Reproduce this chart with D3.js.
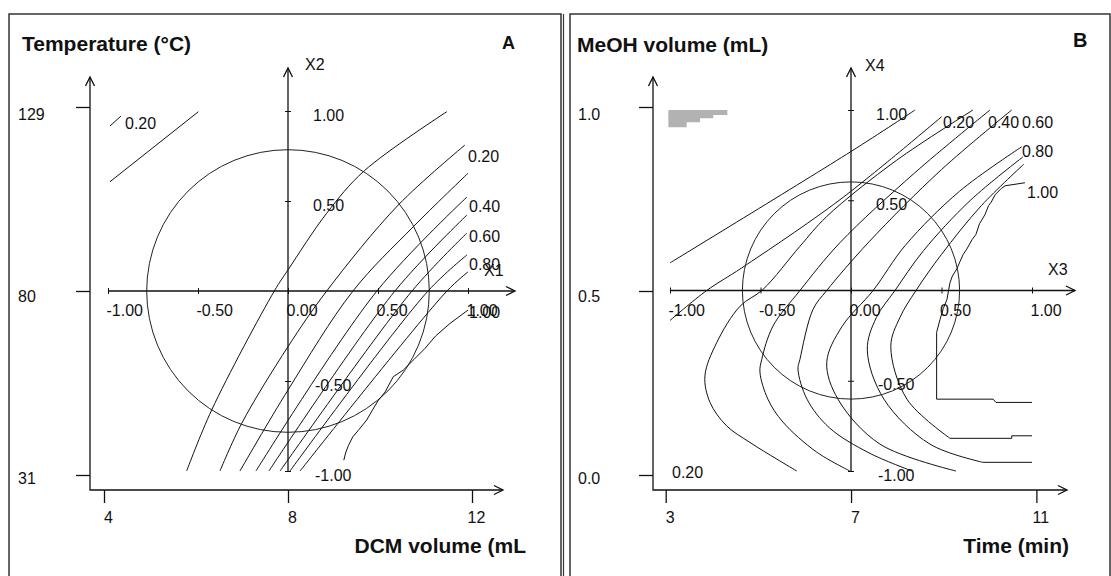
<!DOCTYPE html>
<html>
<head>
<meta charset="utf-8">
<script src="https://cdn.jsdelivr.net/npm/d3@7"></script>
<style>
  body { margin: 0; background: #fff; }
  svg { display: block; }
  text { font-family: "Liberation Sans", Arial, sans-serif; fill: #111; }
  .ax { fill: none; stroke: #111; stroke-width: 1.3; }
  .frame { fill: none; stroke: #333; stroke-width: 1.5; }
  .contour { fill: none; stroke: #111; stroke-width: 1; }
  .circle { fill: none; stroke: #222; stroke-width: 1; }
</style>
</head>
<body>
<svg id="chart" width="1111" height="576"></svg>
<script>
// ---- axis values -------------------------------------------------------
const codedTicks = [-1, -0.5, 0, 0.5, 1];
const codedTickLabels = ["-1.00", "-0.50", "0.00", "0.50", "1.00"];
const dcmTicks = [4, 8, 12];
const tempTicks = [31, 80, 129];
const timeTicks = [3, 7, 11];
const meohTicks = [0, 0.5, 1];
const meohTickLabels = ["0.0", "0.5", "1.0"];

// ---- panel A: response contours in coded units (X1, X2) ----------------
const contoursA = [
  [[-0.989, 0.607], [-0.498, 0.996]],
  [[-0.563, -1.0], [-0.424, -0.661], [-0.076, 0], [0, 0.117], [0.215, 0.432], [0.424, 0.668], [0.882, 0.996]],
  [[-0.378, -1.0], [-0.257, -0.735], [0, -0.309], [0.215, 0], [0.613, 0.478], [0.983, 0.811]],
  [[-0.267, -1.0], [0, -0.55], [0.361, 0], [0.696, 0.357], [1.0, 0.654]],
  [[-0.178, -1.0], [0.494, 0], [0.994, 0.522]],
  [[-0.106, -1.0], [0.594, 0], [0.994, 0.422]],
  [[-0.044, -1.0], [0.689, 0], [0.994, 0.322]],
  [[0.011, -1.0], [0.778, 0], [0.994, 0.2]],
  [[0.067, -1.0], [0.883, 0], [1.0, 0.106]]
];
const jaggedA = [
  [[0.31, -0.94], [0.32, -0.9], [0.335, -0.86], [0.36, -0.81], [0.39, -0.775], [0.437, -0.717],
   [0.47, -0.66], [0.5, -0.61], [0.54, -0.56], [0.585, -0.476], [0.64, -0.44], [0.7, -0.38],
   [0.76, -0.32], [0.82, -0.25], [0.9, -0.18], [1.0, -0.106]]
];
const levelLabelsA = ["0.20", "0.20", "0.40", "0.60", "0.80", "1.00"];

// ---- panel B: response contours in coded units (X3, X4) ----------------
const contoursB = [
  [[-1.0, 0.153], [0, 0.77], [0.354, 1.0]],
  [[-1.0, -0.166], [-0.797, 0], [-0.604, 0.125], [-0.061, 0.503], [0.501, 0.963]],
  [[0.674, 1.0], [0.25, 0.72], [-0.134, 0.41], [-0.282, 0.245], [-0.486, 0.006], [-0.613, -0.087],
   [-0.742, -0.289], [-0.807, -0.473], [-0.779, -0.62], [-0.687, -0.75], [-0.558, -0.842],
   [-0.41, -0.934], [-0.3, -1.0]],
  [[0.768, 1.0], [0.35, 0.65], [-0.061, 0.265], [-0.282, 0], [-0.431, -0.197], [-0.493, -0.381],
   [-0.503, -0.453], [-0.459, -0.602], [-0.376, -0.729], [-0.19, -0.895], [-0.006, -1.0]],
  [[0.888, 1.0], [0.5, 0.67], [0.1, 0.27], [-0.134, 0], [-0.21, -0.105], [-0.282, -0.381],
   [-0.293, -0.436], [-0.243, -0.602], [-0.12, -0.76], [0.1, -0.9], [0.337, -1.0]],
  [[0.943, 0.796], [0.6, 0.55], [0.3, 0.25], [0.122, 0], [-0.05, -0.2], [-0.134, -0.398],
   [-0.072, -0.602], [0.16, -0.851], [0.58, -1.0]],
  [[0.95, 0.74], [0.66, 0.5], [0.4, 0.22], [0.243, 0], [0.14, -0.15], [0.09, -0.33],
   [0.182, -0.602], [0.436, -0.851], [0.729, -0.952]],
  [[0.955, 0.7], [0.72, 0.47], [0.5, 0.2], [0.359, 0], [0.27, -0.15], [0.22, -0.31],
   [0.309, -0.602], [0.547, -0.819]]
];
const jaggedB = [
  [[0.729, -0.952], [1.0, -0.952]],
  [[0.547, -0.819], [0.888, -0.819], [0.888, -0.805], [1.0, -0.805]],
  [[0.961, 0.597], [0.851, 0.58], [0.83, 0.565], [0.796, 0.53], [0.775, 0.49], [0.76, 0.47],
   [0.74, 0.42], [0.71, 0.37], [0.69, 0.31], [0.669, 0.282], [0.64, 0.23], [0.62, 0.2],
   [0.602, 0.16], [0.585, 0.12], [0.56, 0.08], [0.547, 0.044], [0.53, -0.05], [0.51, -0.1],
   [0.492, -0.16], [0.473, -0.232], [0.473, -0.602], [0.785, -0.602], [0.801, -0.62], [1.0, -0.62]]
];
const shadedB = [
  [-1.009, 1.0], [-0.683, 1.0], [-0.683, 0.972], [-0.761, 0.972], [-0.761, 0.954],
  [-0.834, 0.954], [-0.834, 0.932], [-0.908, 0.932], [-0.908, 0.904], [-1.009, 0.904]
];
const levelLabelsB = ["0.20", "0.40", "0.60", "0.80", "1.00", "0.20"];

// ---- layout ------------------------------------------------------------
const panels = [
  {
    frame: [9, 14, 561], title: "Temperature (°C)", titleAt: [22, 51],
    letter: "A", letterAt: [502, 49], letterSize: 18,
    xTitle: "DCM volume (mL", xTitleAt: [526, 553],
    outerX: d3.scaleLinear().domain([4, 12]).range([104, 472]), outerXTicks: dcmTicks,
    outerXLabels: dcmTicks.map(String),
    outerY: d3.scaleLinear().domain([31, 129]).range([475, 107]), outerYTicks: tempTicks,
    outerYLabels: tempTicks.map(String),
    outerYLabelY: d3.scaleLinear().domain([31, 129]).range([483, 119]),
    yAxisX: 90, xAxisY: 490, xArrow: 503, yArrow: 77, yLabelX: 18,
    cx: d3.scaleLinear().domain([-1, 1]).range([108, 468]),
    cy: d3.scaleLinear().domain([-1, 1]).range([471, 111]),
    innerXEnd: 515, innerYTop: 68,
    xName: "X1", xNameAt: [484, 276], yName: "X2", yNameAt: [305, 70],
    radius: 0.785, contours: contoursA, jagged: jaggedA, shaded: null,
    labels: levelLabelsA,
    labelAt: [[125, 129], [468, 162], [469, 212], [469, 242], [469, 270], [469, 318]],
    leader: [[110, 126], [121, 116]]
  },
  {
    frame: [570, 14, 1110], title: "MeOH volume (mL)", titleAt: [577, 52],
    letter: "B", letterAt: [1073, 47], letterSize: 20,
    xTitle: "Time (min)", xTitleAt: [1069, 553],
    outerX: d3.scaleLinear().domain([3, 11]).range([665.7, 1036.4]), outerXTicks: timeTicks,
    outerXLabels: timeTicks.map(String),
    outerY: d3.scaleLinear().domain([0, 1]).range([475, 107]), outerYTicks: meohTicks,
    outerYLabels: meohTickLabels,
    outerYLabelY: d3.scaleLinear().domain([0, 1]).range([483, 119]),
    yAxisX: 653, xAxisY: 490, xArrow: 1067, yArrow: 77, yLabelX: 578,
    cx: d3.scaleLinear().domain([-1, 1]).range([670, 1032]),
    cy: d3.scaleLinear().domain([-1, 1]).range([471, 110]),
    innerXEnd: 1075, innerYTop: 68,
    xName: "X3", xNameAt: [1048, 275], yName: "X4", yNameAt: [865, 71],
    radius: 0.6, contours: contoursB, jagged: jaggedB, shaded: shadedB,
    labels: levelLabelsB,
    labelAt: [[943, 128], [988, 128], [1022, 128], [1022, 157], [1027, 198], [672, 478]],
    leader: null
  }
];

const svg = d3.select("#chart");

function arrowRight(g, x, y) {
  g.append("path").attr("class", "ax").attr("d", `M${x - 9},${y - 4.5}L${x},${y}L${x - 9},${y + 4.5}`);
}
function arrowUp(g, x, y) {
  g.append("path").attr("class", "ax").attr("d", `M${x - 4.5},${y + 9}L${x},${y}L${x + 4.5},${y + 9}`);
}

panels.forEach(p => {
  const g = svg.append("g");

  // frame (open at the bottom edge of the page)
  const [fx0, fy0, fx1] = p.frame;
  g.append("path").attr("class", "frame")
    .attr("d", `M${fx0},600V${fy0}H${fx1}V600`);

  // titles
  g.append("text").attr("x", p.titleAt[0]).attr("y", p.titleAt[1])
    .attr("font-size", 21).attr("font-weight", "bold").text(p.title);
  g.append("text").attr("x", p.letterAt[0]).attr("y", p.letterAt[1])
    .attr("font-size", p.letterSize).attr("font-weight", "bold").text(p.letter);
  g.append("text").attr("x", p.xTitleAt[0]).attr("y", p.xTitleAt[1])
    .attr("text-anchor", "end").attr("font-size", 21).attr("font-weight", "bold").text(p.xTitle);

  // outer (natural units) axes
  const ox = g.append("g").attr("transform", `translate(0,${p.xAxisY})`)
    .call(d3.axisBottom(p.outerX).tickValues(p.outerXTicks).tickSize(13).tickSizeOuter(0)
      .tickFormat((d, i) => p.outerXLabels[i]));
  ox.select(".domain").remove();
  ox.selectAll(".tick line").attr("stroke", "#111").attr("stroke-width", 1.3);
  ox.selectAll(".tick text").attr("font-size", 16).attr("font-family", null)
    .attr("fill", "#111").attr("dy", 0).attr("y", 33).attr("dx", 4);

  const oy = g.append("g").attr("transform", `translate(${p.yAxisX},0)`)
    .call(d3.axisLeft(p.outerY).tickValues(p.outerYTicks).tickSize(14).tickSizeOuter(0)
      .tickFormat((d, i) => p.outerYLabels[i]));
  oy.select(".domain").remove();
  oy.selectAll(".tick line").attr("stroke", "#111").attr("stroke-width", 1.3);
  oy.selectAll(".tick text").attr("font-size", 16).attr("font-family", null)
    .attr("fill", "#111").attr("text-anchor", "start").attr("dy", 0)
    .attr("x", p.yLabelX - p.yAxisX)
    .attr("y", d => p.outerYLabelY(d) - p.outerY(d));

  g.append("path").attr("class", "ax")
    .attr("d", `M${p.yAxisX},${p.yArrow}V${p.xAxisY}H${p.xArrow}`);
  arrowUp(g, p.yAxisX, p.yArrow);
  arrowRight(g, p.xArrow, p.xAxisY);

  // inner (coded) axes through the centre point
  const x0 = p.cx(0), y0 = p.cy(0);
  const ix = g.append("g").attr("transform", `translate(0,${y0})`)
    .call(d3.axisBottom(p.cx).tickValues(codedTicks).tickSize(3).tickSizeOuter(0)
      .tickFormat((d, i) => codedTickLabels[i]));
  ix.select(".domain").remove();
  ix.selectAll(".tick line").attr("stroke", "#111").attr("y1", -3).attr("y2", 3);
  ix.selectAll(".tick text").attr("font-size", 16).attr("font-family", null)
    .attr("fill", "#111").attr("text-anchor", "start").attr("dy", 0).attr("y", 25).attr("x", -2);

  const yVals = codedTicks.filter(d => d !== 0);
  const iy = g.append("g").attr("transform", `translate(${x0},0)`)
    .call(d3.axisRight(p.cy).tickValues(yVals).tickSize(3).tickSizeOuter(0)
      .tickFormat(d => codedTickLabels[codedTicks.indexOf(d)]));
  iy.select(".domain").remove();
  iy.selectAll(".tick line").attr("stroke", "#111").attr("x1", -3).attr("x2", 3);
  iy.selectAll(".tick text").attr("font-size", 16).attr("font-family", null)
    .attr("fill", "#111").attr("text-anchor", "start").attr("dy", 0).attr("y", 9)
    .attr("x", d => d < 0 ? 27 : 25);

  g.append("path").attr("class", "ax").attr("d", `M${p.cx(-1)},${y0}H${p.innerXEnd}`);
  g.append("path").attr("class", "ax").attr("d", `M${x0},${p.cy(-1)}V${p.innerYTop}`);
  arrowRight(g, p.innerXEnd, y0);
  arrowUp(g, x0, p.innerYTop);

  g.append("text").attr("x", p.xNameAt[0]).attr("y", p.xNameAt[1]).attr("font-size", 16).text(p.xName);
  g.append("text").attr("x", p.yNameAt[0]).attr("y", p.yNameAt[1]).attr("font-size", 16).text(p.yName);

  // shaded region
  if (p.shaded) {
    g.append("path").attr("fill", "#b2b2b2")
      .attr("d", d3.line().x(d => p.cx(d[0])).y(d => p.cy(d[1]))(p.shaded) + "Z");
  }

  // experimental-domain circle
  g.append("circle").attr("class", "circle")
    .attr("cx", x0).attr("cy", y0).attr("r", p.cx(p.radius) - x0);

  // contour lines
  const smooth = d3.line().x(d => p.cx(d[0])).y(d => p.cy(d[1])).curve(d3.curveCatmullRom.alpha(0.5));
  const straight = d3.line().x(d => p.cx(d[0])).y(d => p.cy(d[1]));
  g.selectAll(null).data(p.contours).join("path").attr("class", "contour").attr("d", smooth);
  g.selectAll(null).data(p.jagged).join("path").attr("class", "contour").attr("d", straight);

  // contour level labels
  p.labels.forEach((t, i) => {
    g.append("text").attr("x", p.labelAt[i][0]).attr("y", p.labelAt[i][1])
      .attr("font-size", 16).text(t);
  });
  if (p.leader) {
    g.append("line").attr("stroke", "#111")
      .attr("x1", p.leader[0][0]).attr("y1", p.leader[0][1])
      .attr("x2", p.leader[1][0]).attr("y2", p.leader[1][1]);
  }
});

// thin rule between the two panels
svg.append("line").attr("stroke", "#333").attr("stroke-width", 1.2)
  .attr("x1", 563.5).attr("x2", 563.5).attr("y1", 14).attr("y2", 600);
</script>
</body>
</html>
